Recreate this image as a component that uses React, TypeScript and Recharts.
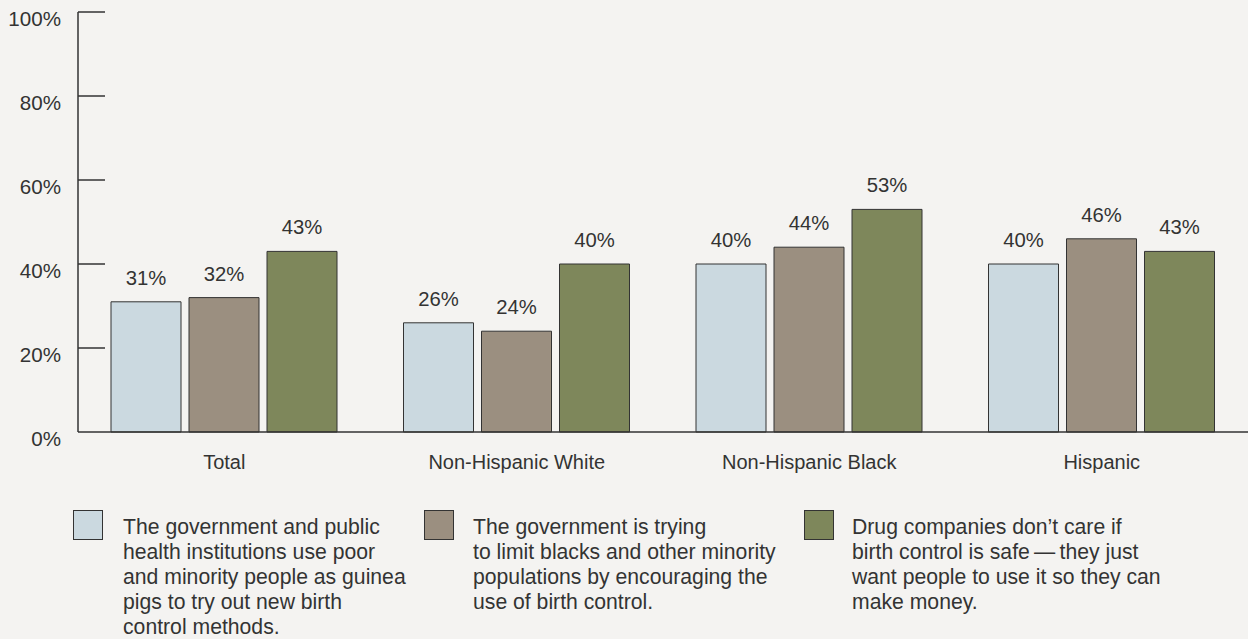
import { BarChart, Bar, XAxis, YAxis, LabelList } from 'recharts'

const categories = ['Total', 'Non-Hispanic White', 'Non-Hispanic Black', 'Hispanic']
const guineaPigs = [31, 26, 40, 40]
const limitMinorities = [32, 24, 44, 46]
const drugCompanies = [43, 40, 53, 43]
const yTicks = [0, 20, 40, 60, 80, 100]

const legendItems = [
  {
    color: '#cbd9e0',
    lines: [
      'The government and public',
      'health institutions use poor',
      'and minority people as guinea',
      'pigs to try out new birth',
      'control methods.',
    ],
  },
  {
    color: '#9b8f80',
    lines: [
      'The government is trying',
      'to limit blacks and other minority',
      'populations by encouraging the',
      'use of birth control.',
    ],
  },
  {
    color: '#7e875b',
    lines: [
      'Drug companies don’t care if',
      'birth control is safe\u2009—\u2009they just',
      'want people to use it so they can',
      'make money.',
    ],
  },
]

const data = categories.map((name, i) => ({
  name,
  a: guineaPigs[i],
  b: limitMinorities[i],
  c: drugCompanies[i],
}))

const ink = '#333333'
const font = '"Liberation Sans", Arial, Helvetica, sans-serif'

// legend boxes are placed by hand under each group of text
const legendPos = [
  { box: 73, text: 123 },
  { box: 424, text: 473 },
  { box: 804, text: 852 },
]

function YTick(props: any) {
  const { x, y, payload } = props
  return (
    <g>
      {payload.value > 0 && <line x1={x} x2={x + 27} y1={y} y2={y} stroke={ink} strokeWidth={1.5} />}
      <text x={x - 17} y={y + 14} textAnchor="end" fill={ink} fontSize={20.6} fontFamily={font}>
        {payload.value}%
      </text>
    </g>
  )
}

function XTick(props: any) {
  const { x, y, payload } = props
  return (
    <text x={x} y={y + 37} textAnchor="middle" fill={ink} fontSize={20} fontFamily={font}>
      {payload.value}
    </text>
  )
}

export default function App() {
  const labelStyle = { fill: ink, fontSize: 20.3, fontFamily: font }
  return (
    <div
      style={{
        position: 'absolute',
        left: 0,
        top: 0,
        width: 1248,
        height: 639,
        background: '#f4f3f1',
        fontFamily: font,
        overflow: 'hidden',
      }}
    >
      <BarChart
        width={1248}
        height={639}
        data={data}
        margin={{ top: 12, right: 0, left: 0, bottom: 177 }}
        barSize={70}
        barGap={8}
      >
        <XAxis
          dataKey="name"
          height={30}
          tickLine={false}
          tickSize={0}
          tickMargin={0}
          axisLine={{ stroke: ink, strokeWidth: 1.5 }}
          tick={<XTick />}
          interval={0}
        />
        <YAxis
          width={78}
          domain={[0, 100]}
          ticks={yTicks}
          tickLine={false}
          tickSize={0}
          tickMargin={0}
          axisLine={{ stroke: ink, strokeWidth: 1.5 }}
          tick={<YTick />}
          interval={0}
        />
        <Bar dataKey="a" fill="#cbd9e0" stroke={ink} strokeWidth={1} isAnimationActive={false}>
          <LabelList dataKey="a" position="top" offset={17} formatter={(v: any) => `${v}%`} style={labelStyle} />
        </Bar>
        <Bar dataKey="b" fill="#9b8f80" stroke={ink} strokeWidth={1} isAnimationActive={false}>
          <LabelList dataKey="b" position="top" offset={17} formatter={(v: any) => `${v}%`} style={labelStyle} />
        </Bar>
        <Bar dataKey="c" fill="#7e875b" stroke={ink} strokeWidth={1} isAnimationActive={false}>
          <LabelList dataKey="c" position="top" offset={17} formatter={(v: any) => `${v}%`} style={labelStyle} />
        </Bar>
      </BarChart>
      {legendItems.map((item, i) => (
        <div key={i}>
          <div
            style={{
              position: 'absolute',
              left: legendPos[i].box,
              top: 510,
              width: 28,
              height: 28,
              background: item.color,
              border: `1px solid ${ink}`,
            }}
          />
          <div
            style={{
              position: 'absolute',
              left: legendPos[i].text,
              top: 514,
              fontSize: 21.2,
              lineHeight: '25px',
              color: ink,
              whiteSpace: 'nowrap',
            }}
          >
            {item.lines.map((l, j) => (
              <div key={j}>{l}</div>
            ))}
          </div>
        </div>
      ))}
    </div>
  )
}
